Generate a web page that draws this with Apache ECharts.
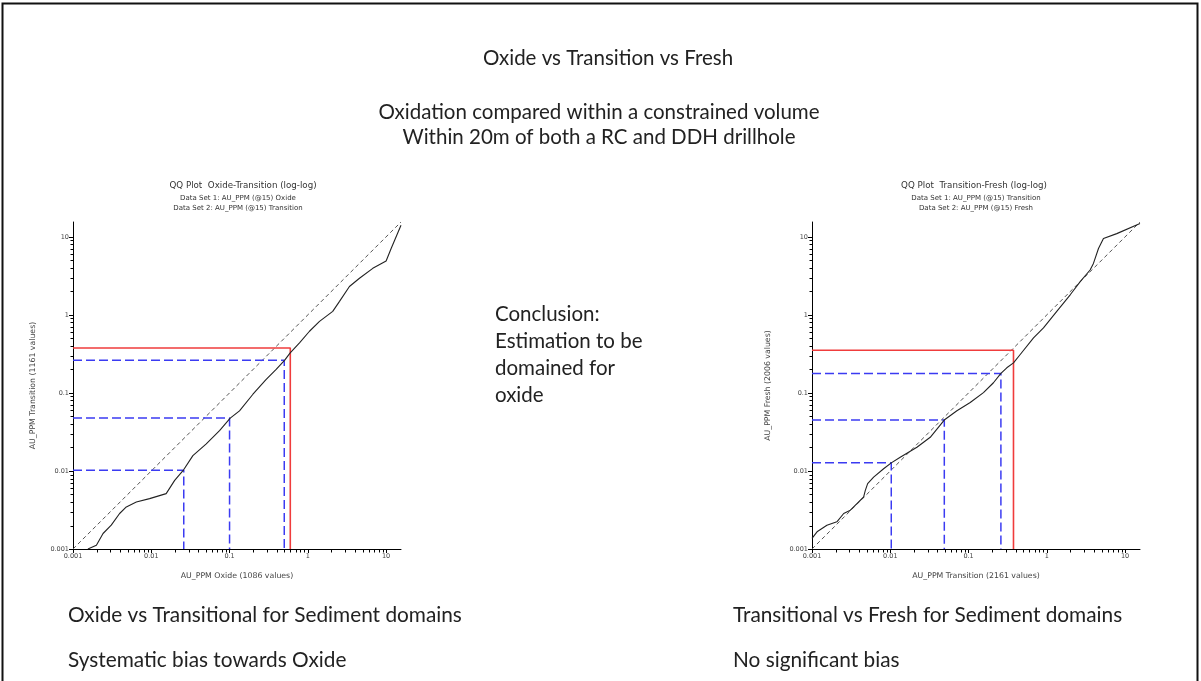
<!DOCTYPE html>
<html><head><meta charset="utf-8">
<script src="https://cdn.jsdelivr.net/npm/echarts@6/dist/echarts.min.js"></script>
<style>html,body{margin:0;padding:0;background:#fff}#c{width:1201px;height:681px}</style>
</head><body><div id="c"></div>
<script>
// ---- data ----
const AXIS_MIN = 0.001;
const AXIS_MAX = 15.5;
const MAJOR_TICKS = [0.001, 0.01, 0.1, 1, 10];
const MAJOR_LABELS = ['0.001', '0.01', '0.1', '1', '10'];
const MINOR_TICKS = [0.002,0.003,0.004,0.005,0.006,0.007,0.008,0.009,
  0.02,0.03,0.04,0.05,0.06,0.07,0.08,0.09,
  0.2,0.3,0.4,0.5,0.6,0.7,0.8,0.9,
  2,3,4,5,6,7,8,9];

// Left QQ: Oxide (x) vs Transition (y)
const LEFT_X = [0.00155,0.00199,0.00242,0.00308,0.00394,0.0048,0.00644,0.00952,0.0155,0.0199,
  0.0259,0.034,0.0504,0.0745,0.102,0.134,0.199,0.294,0.394,0.504,
  0.595,0.783,1.05,1.41,2.08,2.54,3.4,4.57,6.76,10,11.6,15.5];
const LEFT_Y = [0.001,0.00112,0.00158,0.00202,0.00285,0.00346,0.00401,0.00442,0.00512,0.00757,
  0.01035,0.0157,0.0222,0.0328,0.0475,0.059,0.0962,0.149,0.2,0.261,
  0.326,0.438,0.617,0.826,1.11,1.49,2.31,2.95,3.95,4.9,7.1,14.1];
const LEFT_RED = [0.597, 0.377];
const LEFT_BLUE = [[0.026, 0.0102], [0.1, 0.0476], [0.50, 0.263]];

// Right QQ: Transition (x) vs Fresh (y)
const RIGHT_X = [0.001,0.00116,0.00155,0.00208,0.00254,0.00309,0.00375,0.00457,0.0048,0.00514,
  0.00613,0.00822,0.0103,0.0134,0.0219,0.0324,0.0489,0.071,0.105,0.155,
  0.208,0.259,0.308,0.375,0.457,0.676,0.906,1.34,1.99,2.67,
  3.57,3.94,4.57,5.29,7.83,15.5];
const RIGHT_Y = [0.00137,0.00166,0.00202,0.00223,0.00285,0.00314,0.00382,0.00464,0.00565,0.00687,
  0.00834,0.01066,0.0127,0.015,0.0201,0.027,0.0449,0.059,0.0753,0.101,
  0.135,0.178,0.21,0.243,0.311,0.507,0.68,1.11,1.81,2.67,
  3.76,4.57,7.1,9.5,11.0,14.8];
const RIGHT_RED = [0.375, 0.353];
const RIGHT_BLUE = [[0.0103, 0.0127], [0.049, 0.045], [0.259, 0.178]];

// ---- helpers ----
const zip = (xs, ys) => xs.map((x, i) => [x, ys[i]]);
const guide = (p) => [[AXIS_MIN, p[1]], [p[0], p[1]], [p[0], AXIS_MIN]];
const SMALL = 'DejaVu Sans';
const BIG = 'Lato';

function labelFmt(v) {
  for (let i = 0; i < MAJOR_TICKS.length; i++) {
    if (Math.abs(Math.log10(v / MAJOR_TICKS[i])) < 1e-6) return MAJOR_LABELS[i];
  }
  return '';
}
function axis(gridIndex, name, isY, gap) {
  return {
    type: 'log', logBase: 10, gridIndex, min: AXIS_MIN, max: AXIS_MAX,
    name, nameLocation: 'middle', nameGap: gap,
    nameTextStyle: {fontSize: 7.8, color: '#444', fontFamily: SMALL},
    axisLine: {show: true, onZero: false, lineStyle: {color: '#000', width: 1}},
    axisTick: {show: true, length: 4, customValues: MAJOR_TICKS, lineStyle: {color: '#000'}},
    axisLabel: {show: true, customValues: MAJOR_TICKS, fontSize: 6.5, color: '#444', fontFamily: SMALL, margin: 4, formatter: labelFmt},
    splitLine: {show: false}, minorTick: {show: false}
  };
}
function minorSeries(idx, isY) {
  return {
    type: 'custom', xAxisIndex: idx, yAxisIndex: idx, clip: false, silent: true, z: 5,
    data: MINOR_TICKS.map(v => isY ? [AXIS_MIN, v] : [v, AXIS_MIN]),
    renderItem: (params, api) => {
      const p = api.coord([api.value(0), api.value(1)]);
      const x = Math.round(p[0]) + 0.5, y = Math.round(p[1]) + 0.5;
      return isY
        ? {type: 'line', shape: {x1: x - 3, y1: y, x2: x, y2: y}, style: {stroke: '#000', lineWidth: 1}}
        : {type: 'line', shape: {x1: x, y1: y, x2: x, y2: y + 3}, style: {stroke: '#000', lineWidth: 1}};
    }
  };
}
function plotSeries(idx, xs, ys, red, blues) {
  const common = {xAxisIndex: idx, yAxisIndex: idx, showSymbol: false, symbol: 'none', silent: true, animation: false};
  const out = [];
  out.push(Object.assign({type: 'line', data: [[AXIS_MIN, AXIS_MIN], [AXIS_MAX, AXIS_MAX]],
    lineStyle: {color: '#555', width: 1, type: [4, 3]}}, common));
  blues.forEach(b => out.push(Object.assign({type: 'line', data: guide(b),
    lineStyle: {color: '#3b3bf2', width: 1.5, type: [9, 4]}}, common)));
  out.push(Object.assign({type: 'line', data: guide(red),
    lineStyle: {color: '#f03c3c', width: 1.6}}, common));
  out.push(Object.assign({type: 'line', data: zip(xs, ys),
    lineStyle: {color: '#222', width: 1.1}}, common));
  return out;
}
function txt(text, x, y, size, align, family, fill) {
  return {type: 'text', x, y, silent: true,
    style: {text, fontSize: size, fontFamily: family || BIG, fill: fill || '#222',
      align: align || 'left', verticalAlign: 'middle'}};
}

const chart = echarts.init(document.getElementById('c'), null, {renderer: 'canvas'});
chart.setOption({
  animation: false,
  backgroundColor: '#fff',
  grid: [
    {left: 73, top: 222, width: 328, height: 327},
    {left: 812, top: 222, width: 328, height: 327}
  ],
  xAxis: [
    axis(0, 'AU_PPM Oxide (1086 values)', false, 23),
    axis(1, 'AU_PPM Transition (2161 values)', false, 23)
  ],
  yAxis: [
    axis(0, 'AU_PPM Transition (1161 values)', true, 36),
    axis(1, 'AU_PPM Fresh (2006 values)', true, 40)
  ],
  series: [].concat(
    plotSeries(0, LEFT_X, LEFT_Y, LEFT_RED, LEFT_BLUE),
    plotSeries(1, RIGHT_X, RIGHT_Y, RIGHT_RED, RIGHT_BLUE),
    [minorSeries(0, false), minorSeries(0, true), minorSeries(1, false), minorSeries(1, true)]
  ),
  graphic: [
    {type: 'polyline', silent: true, shape: {points: [[2.5, 681], [2.5, 3.5], [1197.5, 3.5], [1197.5, 681]]},
      style: {stroke: '#111', lineWidth: 2, fill: null}},
    txt('Oxide vs Transition vs Fresh', 608, 58, 20.5, 'center'),
    txt('Oxidation compared within a constrained volume', 599, 112, 20.5, 'center'),
    txt('Within 20m of both a RC and DDH drillhole', 599, 137, 20.5, 'center'),
    txt('QQ Plot  Oxide-Transition (log-log)', 243, 186, 8.7, 'center', SMALL, '#333'),
    txt('Data Set 1: AU_PPM (@15) Oxide', 238, 198, 7, 'center', SMALL, '#333'),
    txt('Data Set 2: AU_PPM (@15) Transition', 238, 208, 7, 'center', SMALL, '#333'),
    txt('QQ Plot  Transition-Fresh (log-log)', 974, 186, 8.7, 'center', SMALL, '#333'),
    txt('Data Set 1: AU_PPM (@15) Transition', 976, 198, 7, 'center', SMALL, '#333'),
    txt('Data Set 2: AU_PPM (@15) Fresh', 976, 208, 7, 'center', SMALL, '#333'),
    txt('Conclusion:', 495, 314, 20.5),
    txt('Estimation to be', 495, 341, 20.5),
    txt('domained for', 495, 368, 20.5),
    txt('oxide', 495, 395, 20.5),
    txt('Oxide vs Transitional for Sediment domains', 68, 615, 20.8),
    txt('Systematic bias towards Oxide', 68, 660, 20.8),
    txt('Transitional vs Fresh for Sediment domains', 733, 615, 20.8),
    txt('No significant bias', 733, 660, 20.8)
  ]
});
</script>
</body></html>
